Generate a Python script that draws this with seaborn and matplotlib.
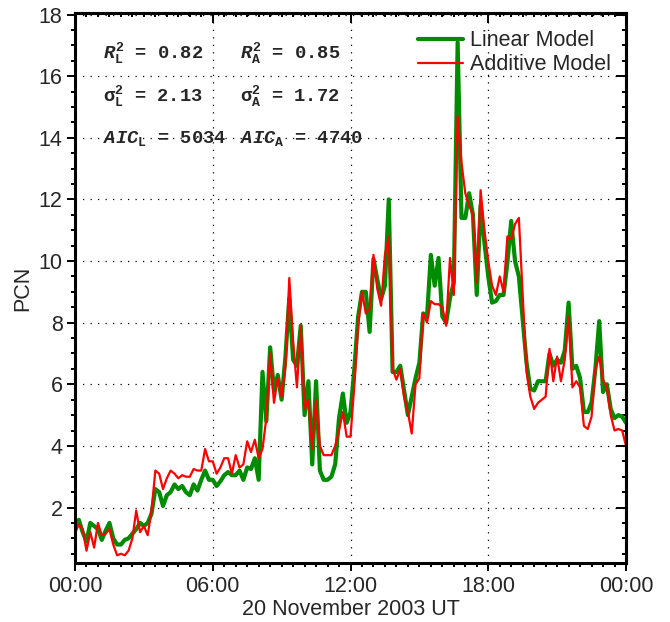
import numpy as np
import matplotlib
matplotlib.use("Agg")
import matplotlib.pyplot as plt
import seaborn as sns
from matplotlib.ticker import MultipleLocator

# ---- data (10-minute samples, 20 November 2003) ----
time_min = np.arange(0, 1441, 10)

linear_model = [
    1.33, 1.6, 1.2, 0.9, 1.5, 1.4, 1.3, 0.95, 1.25, 1.5,
    1.0, 0.8, 0.8, 0.95, 1.0, 1.15, 1.3, 1.5, 1.4, 1.5,
    1.8, 2.6, 2.5, 2.05, 2.4, 2.5, 2.75, 2.6, 2.7, 2.5,
    2.4, 2.75, 2.55, 2.9, 3.2, 2.9, 2.9, 2.7, 2.85, 3.05,
    3.15, 3.05, 3.05, 3.2, 2.9, 3.3, 3.25, 3.6, 2.9, 6.4,
    4.8, 7.2, 5.8, 6.3, 5.5, 6.9, 8.8, 6.8, 6.6, 7.9,
    5.0, 6.1, 3.4, 6.1, 3.2, 2.9, 2.9, 3.0, 3.4, 4.9,
    5.7, 4.75, 5.1, 6.5, 8.2, 9.0, 9.0, 7.7, 10.07, 9.4,
    8.77, 9.2, 12.0, 6.4, 6.4, 6.6, 5.8, 5.0, 5.6, 6.2,
    6.7, 8.3, 8.2, 10.2, 9.2, 10.1, 8.2, 8.0, 8.8, 9.3,
    17.1, 11.4, 11.4, 12.2, 11.5, 8.9, 11.8, 10.6, 9.5, 8.65,
    8.7, 8.9, 8.9, 9.95, 11.3, 10.0, 9.5, 8.1, 6.7, 5.85,
    5.8, 6.1, 6.1, 6.1, 7.0, 6.6, 6.8, 6.7, 7.1, 8.65,
    6.5, 6.6, 6.2, 5.1, 5.1, 5.4, 6.5, 8.05, 5.75, 6.0,
    5.2, 4.9, 5.0, 4.95, 4.75,
]

additive_model = [
    1.17, 1.45, 1.3, 0.6, 1.2, 0.7, 1.5, 1.1, 1.15, 1.3,
    0.8, 0.45, 0.5, 0.45, 0.6, 1.0, 1.9, 1.2, 1.4, 1.1,
    1.9, 3.2, 3.1, 2.6, 2.95, 3.2, 3.1, 2.95, 3.05, 3.0,
    3.0, 3.25, 3.2, 3.2, 3.9, 3.5, 3.5, 3.1, 3.3, 3.6,
    3.6, 3.1, 3.7, 3.3, 3.4, 4.15, 3.8, 4.2, 3.6, 3.9,
    4.9, 7.0, 5.4, 6.2, 5.6, 6.6, 9.45, 7.4, 5.9, 7.9,
    5.2, 5.5, 3.9, 5.5, 4.0, 3.7, 3.7, 3.7, 4.0, 4.5,
    5.1, 4.3, 4.3, 5.95, 7.9, 9.0, 8.3, 8.45, 10.2, 9.1,
    8.55, 10.2, 10.8, 6.5, 6.15, 6.5, 5.6, 5.1, 4.4, 6.0,
    6.2, 8.3, 8.0, 8.7, 8.6, 8.6, 8.5, 7.9, 10.1, 8.9,
    14.7, 13.2, 12.2, 11.8, 11.5, 9.3, 12.3, 11.0, 10.0, 9.2,
    8.9, 9.5, 9.0, 10.8, 10.7, 11.2, 11.4, 8.9, 6.4, 5.6,
    5.2, 5.4, 5.5, 5.6, 7.15, 6.1, 6.9, 6.1, 6.8, 8.2,
    5.9, 6.1, 5.9, 4.65, 4.55, 4.95, 6.5, 6.9, 6.15, 5.9,
    5.0, 4.5, 4.55, 4.5, 4.0,
]

x_tick_hours = [0, 6, 12, 18, 24]
x_tick_labels = ["00:00", "06:00", "12:00", "18:00", "00:00"]
y_ticks = [2, 4, 6, 8, 10, 12, 14, 16, 18]

stats_text = [
    (r"$R^{2}_{\mathrm{L}}$ = 0.82", r"$R^{2}_{\mathrm{A}}$ = 0.85"),
    (r"$\mathrm{\sigma}^{2}_{\mathrm{L}}$ = 2.13", r"$\mathrm{\sigma}^{2}_{\mathrm{A}}$ = 1.72"),
    (r"$AIC_{\mathrm{L}}$ = 5034", r"$AIC_{\mathrm{A}}$ = 4740"),
]

# ---- style ----
sns.set_theme(style="white")
plt.rcParams["font.family"] = ["Liberation Sans", "DejaVu Sans"]
plt.rcParams["mathtext.fontset"] = "custom"
plt.rcParams["mathtext.rm"] = "Liberation Mono:bold"
plt.rcParams["mathtext.it"] = "Liberation Mono:italic:bold"
plt.rcParams["mathtext.bf"] = "Liberation Mono:bold"

FS = 15.5
hours = time_min / 60.0

fig = plt.figure(figsize=(6.7, 6.22), dpi=100)
ax = fig.add_axes([75 / 670, 1 - 563 / 622, 551 / 670, 550 / 622])

sns.lineplot(x=hours, y=linear_model, color="#008c00", lw=3.0,
             label="Linear Model", ax=ax, estimator=None)
sns.lineplot(x=hours, y=additive_model, color="#ff0000", lw=1.6,
             label="Additive Model", ax=ax, estimator=None)

ax.set_xlim(0, 24)
ax.set_ylim(0.2, 18.05)
ax.set_xticks(x_tick_hours)
ax.set_xticklabels(x_tick_labels, fontsize=FS)
ax.set_yticks(y_ticks)
ax.set_yticklabels([str(v) for v in y_ticks], fontsize=FS)
ax.xaxis.set_minor_locator(MultipleLocator(0.5))
ax.yaxis.set_minor_locator(MultipleLocator(0.5))
ax.tick_params(which="both", direction="out", top=False, right=False,
               width=1.4, color="black", bottom=True, left=True)
ax.tick_params(which="major", length=6, pad=3)
ax.tick_params(which="minor", length=3)

ax.grid(True, which="major", color="black", linestyle=(0, (1, 5)), lw=0.9)

for s in ax.spines.values():
    s.set_linewidth(2.2)
    s.set_color("black")

# inward ticks on top and right
sx = ax.secondary_xaxis("top")
sx.set_xticks(x_tick_hours)
sx.set_xticklabels([])
sx.xaxis.set_minor_locator(MultipleLocator(0.5))
sx.tick_params(which="both", direction="in", width=1.4, color="black")
sx.tick_params(which="major", length=7)
sx.tick_params(which="minor", length=3)
sx.spines["top"].set_linewidth(2.2)

sy = ax.secondary_yaxis("right")
sy.set_yticks(y_ticks)
sy.set_yticklabels([])
sy.yaxis.set_minor_locator(MultipleLocator(0.5))
sy.tick_params(which="both", direction="in", width=1.4, color="black")
sy.tick_params(which="major", length=7)
sy.tick_params(which="minor", length=3)
sy.spines["right"].set_linewidth(2.2)

ax.set_xlabel("20 November 2003 UT", fontsize=FS, labelpad=2)
ax.set_ylabel("PCN", fontsize=FS, labelpad=4)

leg = ax.legend(loc="upper left", bbox_to_anchor=(0.6225, 0.969), frameon=False,
                fontsize=FS, handlelength=2.1, handletextpad=0.33,
                borderpad=0, borderaxespad=0, labelspacing=0.14)

row_y = [0.918, 0.840, 0.763]
col_x = [0.051, 0.300]
for r, (left, right) in enumerate(stats_text):
    for c, txt in enumerate((left, right)):
        ax.text(col_x[c], row_y[r], txt, transform=ax.transAxes,
                fontsize=13.5, family="Liberation Mono", weight="bold",
                ha="left", va="baseline")

fig.savefig("out.png", dpi=100)
